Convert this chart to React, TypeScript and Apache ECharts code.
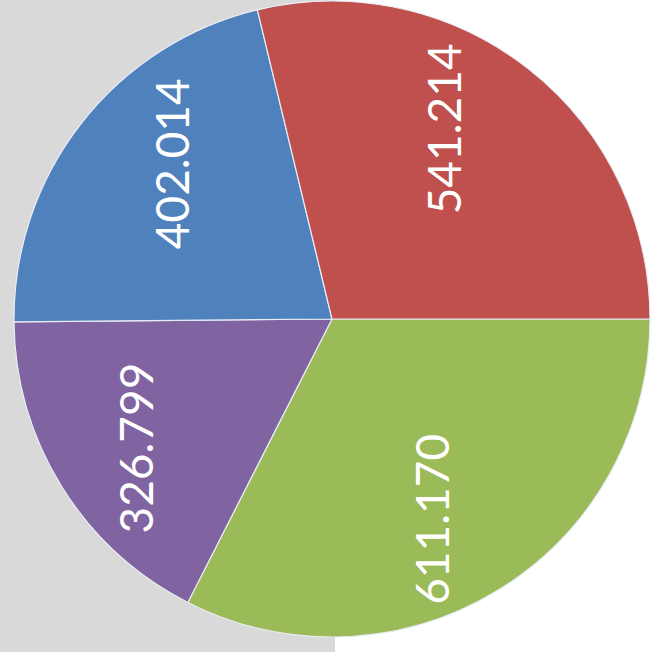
import React, { useEffect, useRef } from "react";
import * as echarts from "echarts";

const categories = ["Green", "Purple", "Blue", "Red"];
const values = [611.17, 326.799, 402.014, 541.214];
const labels = ["611.170", "326.799", "402.014", "541.214"];
const colors = ["#9bbb59", "#8064a2", "#4f81bd", "#c0504d"];
// small screen-space label nudges (styling only) to match Excel's label placement
const labelNudgeX = [-20, -3, 19, -30];
const labelNudgeY = [6, 9, -15, -11];

export default function App() {
  const ref = useRef<HTMLDivElement>(null);
  useEffect(() => {
    document.body.style.margin = "0";
    const chart = echarts.init(ref.current!, null, { renderer: "svg" });
    const data = categories.map((name, i) => ({
      name,
      value: values[i],
      itemStyle: { color: colors[i] },
    }));
    const labelData = categories.map((name, i) => ({
      name,
      value: values[i],
      label: { formatter: labels[i] },
    }));
    chart.setOption({
      animation: false,
      backgroundColor: "#ffffff",
      graphic: [
        {
          type: "rect",
          z: -10,
          silent: true,
          shape: { x: 0, y: 0, width: 335, height: 652 },
          style: { fill: "#d9d9d9" },
        },
      ],
      series: [
        {
          type: "pie",
          center: [332, 319],
          radius: 318,
          startAngle: 0,
          clockwise: true,
          silent: true,
          label: { show: false },
          labelLine: { show: false },
          itemStyle: { borderColor: "#e8ecf4", borderWidth: 1.2 },
          data,
        },
        {
          type: "pie",
          center: [332, 319],
          radius: [132, 318],
          startAngle: 0,
          clockwise: true,
          silent: true,
          itemStyle: { color: "rgba(0,0,0,0)", borderWidth: 0 },
          labelLine: { show: false },
          label: {
            show: true,
            position: "inside",
            rotate: 90,
            color: "#ffffff",
            fontFamily: "Lato, 'Open Sans', sans-serif",
            fontSize: 46,
            overflow: "none",
          },
          // label is rotated 90deg: local x points up, local y points right
          labelLayout: (p: any) => ({
            dx: -(labelNudgeY[p.dataIndex] || 0),
            dy: labelNudgeX[p.dataIndex] || 0,
          }),
          data: labelData,
        },
      ],
    });
    return () => chart.dispose();
  }, []);
  return <div ref={ref} style={{ width: 654, height: 652 }} />;
}
